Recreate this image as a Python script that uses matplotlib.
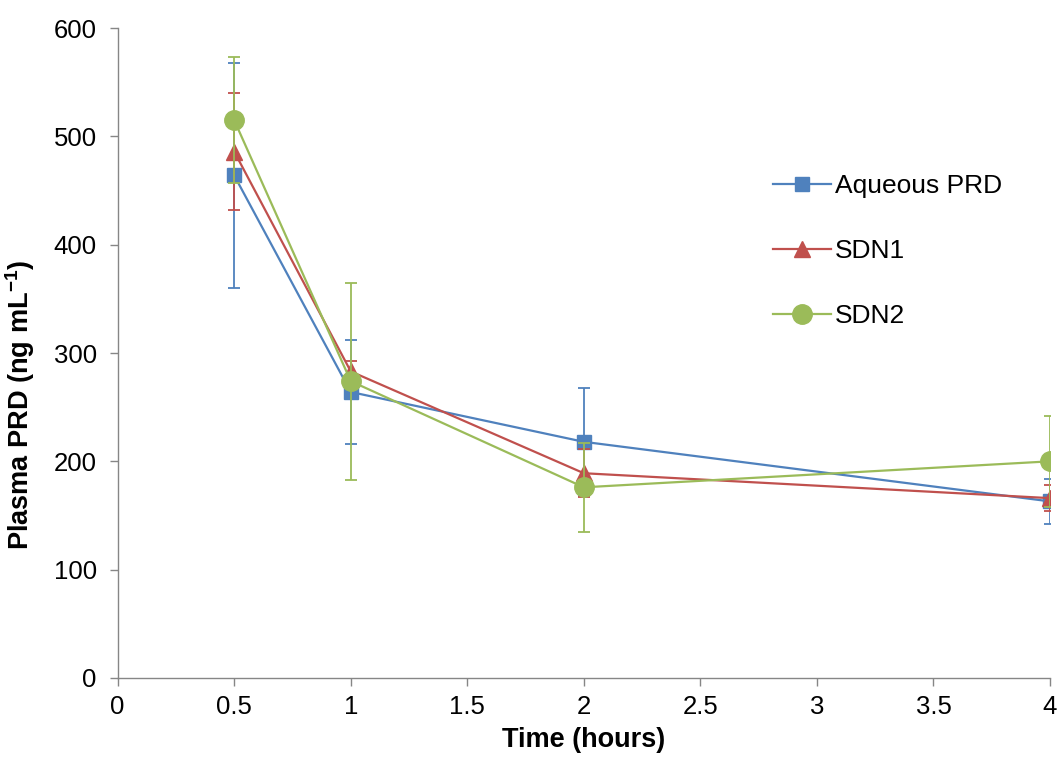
import matplotlib
matplotlib.use('Agg')
import matplotlib.pyplot as plt

plt.rcParams['font.family'] = ['Liberation Sans', 'DejaVu Sans']
plt.rcParams['mathtext.fontset'] = 'custom'
plt.rcParams['mathtext.rm'] = 'Liberation Sans'
plt.rcParams['mathtext.bf'] = 'Liberation Sans:bold'

# sampling times (hours)
time_h = [0.5, 1, 2, 4]

# mean plasma concentration and SD for each formulation
aqueous_prd = [464, 264, 218, 163]
aqueous_sd = [104, 48, 50, 21]
sdn1 = [486, 283, 189, 166]
sdn1_sd = [54, 10, 22, 12]
sdn2 = [515, 274, 176, 200]
sdn2_sd = [58, 91, 41, 42]

series = [
    ('Aqueous PRD', aqueous_prd, aqueous_sd, '#4F81BD', 's', 10),
    ('SDN1', sdn1, sdn1_sd, '#C0504D', '^', 12),
    ('SDN2', sdn2, sdn2_sd, '#9BBB59', 'o', 14),
]

fig = plt.figure(figsize=(10.6, 7.6), dpi=100)
ax = fig.add_axes([0.111, 0.108, 0.8796, 0.855])

handles = []
for name, vals, sd, col, mk, ms in series:
    ax.errorbar(time_h, vals, yerr=sd, fmt='none', ecolor=col,
                elinewidth=1.3, capsize=4.5, capthick=1.3)
    line, = ax.plot(time_h, vals, color=col, marker=mk, markersize=ms,
                    linewidth=1.6, label=name)
    handles.append(line)

ax.set_xlim(0, 4)
ax.set_ylim(0, 600)
ax.set_xticks([0, 0.5, 1, 1.5, 2, 2.5, 3, 3.5, 4])
ax.set_xticklabels(['0', '0.5', '1', '1.5', '2', '2.5', '3', '3.5', '4'])
ax.set_yticks(range(0, 601, 100))
ax.tick_params(labelsize=18.5, color='#868686', length=6, width=1)
ax.tick_params(axis='x', pad=6)
ax.tick_params(axis='y', pad=9)

for s in ['top', 'right']:
    ax.spines[s].set_visible(False)
for s in ['left', 'bottom']:
    ax.spines[s].set_color('#868686')
    ax.spines[s].set_linewidth(1)

ax.set_xlabel('Time (hours)', fontsize=19.5, fontweight='bold', labelpad=6)
ax.set_ylabel(r'Plasma PRD (ng mL$^{\mathbf{-1}}$)', fontsize=19.5,
              fontweight='bold')
ax.yaxis.set_label_coords(-0.087, 0.42)

ax.legend(handles=handles, loc='upper left', bbox_to_anchor=(0.677, 0.812),
          frameon=False, fontsize=19, handlelength=2.2, handletextpad=0.15,
          labelspacing=1.56)

fig.savefig('out.png', dpi=100)
